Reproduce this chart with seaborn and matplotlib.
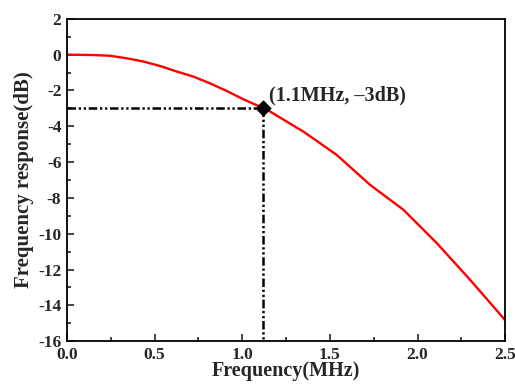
import matplotlib
matplotlib.use("Agg")
import matplotlib.pyplot as plt
import seaborn as sns
import pandas as pd
from matplotlib.ticker import MultipleLocator, FormatStrFormatter

freq_mhz = [0.0, 0.15, 0.245, 0.34, 0.435, 0.53, 0.626, 0.72, 0.816, 0.91, 1.006, 1.10,
            1.159, 1.349, 1.539, 1.729, 1.92, 2.11, 2.30, 2.49, 2.5]
response_db = [0.0, -0.02, -0.06, -0.2, -0.38, -0.63, -0.94, -1.22, -1.6, -2.02, -2.49, -2.9,
               -3.18, -4.30, -5.6, -7.27, -8.67, -10.53, -12.58, -14.72, -14.85]
cutoff_f = [1.12]
cutoff_db = [-3.0]
annot_text = "(1.1MHz, \u20133dB)"

sns.set_theme(style="ticks")
plt.rcParams["font.family"] = ["Liberation Serif", "DejaVu Serif"]
plt.rcParams["font.weight"] = "bold"
plt.rcParams["axes.unicode_minus"] = False

fig = plt.figure(figsize=(5.15, 3.85), dpi=100)
ax = fig.add_axes([0.130, 0.114, 0.851, 0.837])

df = pd.DataFrame({"f": freq_mhz, "r": response_db})
sns.lineplot(data=df, x="f", y="r", ax=ax, color="#ff0000", linewidth=1.7, estimator=None, sort=False)

dash = (3.4, 1.1, 0.9, 1.1, 0.9, 1.1)
ax.plot([0, cutoff_f[0]], [cutoff_db[0], cutoff_db[0]], color="black", lw=1.8, dashes=dash, zorder=3)
ax.plot([cutoff_f[0], cutoff_f[0]], [cutoff_db[0], -16], color="black", lw=1.8, dashes=dash, zorder=3)
sns.scatterplot(x=cutoff_f, y=cutoff_db, ax=ax, marker="D", s=60, color="black", zorder=5, edgecolor="black")
ax.text(cutoff_f[0] + 0.035, cutoff_db[0] + 0.72, annot_text, fontsize=14.5, fontweight="bold", va="center", ha="left")

ax.set_xlim(0, 2.5)
ax.set_ylim(-16, 2)
ax.xaxis.set_major_locator(MultipleLocator(0.5))
ax.xaxis.set_minor_locator(MultipleLocator(0.25))
ax.yaxis.set_major_locator(MultipleLocator(2))
ax.yaxis.set_minor_locator(MultipleLocator(1))
ax.xaxis.set_major_formatter(FormatStrFormatter("%.1f"))
ax.tick_params(which="both", direction="in", top=False, right=False, labelsize=12.5, width=1.2, pad=4)
ax.tick_params(which="major", length=5)
ax.tick_params(which="minor", length=3)
for lab in ax.get_xticklabels() + ax.get_yticklabels():
    lab.set_fontweight("bold")
for sp in ax.spines.values():
    sp.set_linewidth(1.3)
    sp.set_color("black")

ax.set_xlabel("Frequency(MHz)", fontsize=14.5, fontweight="bold", labelpad=-1)
ax.set_ylabel("Frequency response(dB)", fontsize=15, fontweight="bold", labelpad=3)

fig.savefig("out.png", dpi=100)
